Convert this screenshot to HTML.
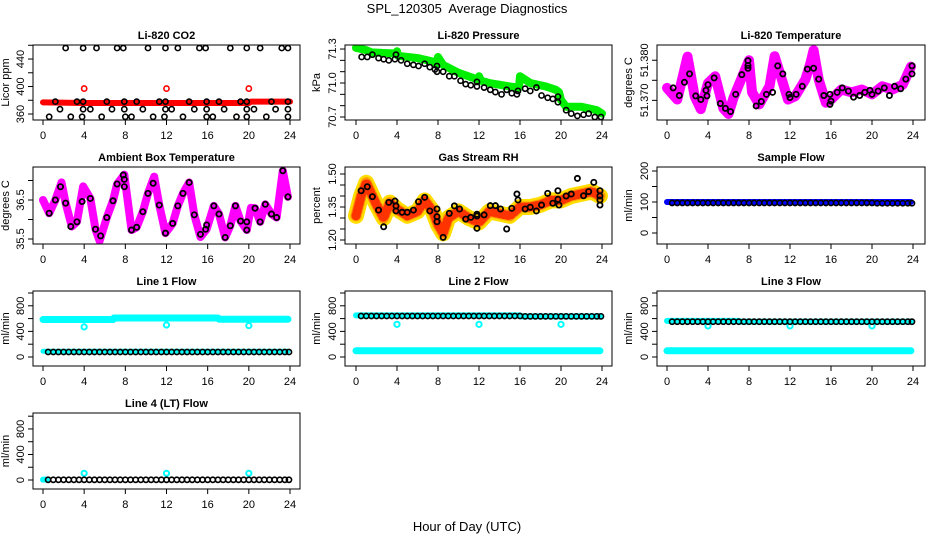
<!DOCTYPE html>
<html><head><meta charset="utf-8"><style>
html,body{margin:0;padding:0;background:#fff}
svg{display:block;font-family:"Liberation Sans",Arial,sans-serif}
</style></head><body>
<svg id="chart" width="936" height="540" viewBox="0 0 936 540" xmlns="http://www.w3.org/2000/svg">
<text x="467" y="13" text-anchor="middle" font-size="13" style="white-space:pre">SPL_120305&#160; Average Diagnostics</text>
<text x="467" y="531" text-anchor="middle" font-size="13">Hour of Day (UTC)</text>
</svg>
<script>
// ---- data ----
const hourTicks = [0,4,8,12,16,20,24];

const co2BandT = [0,4,8,12,16,20,20.2,24];
const co2BandV = [377,376,376,376,376,376,378,378];
const co2OutT = [4,12,20];
const co2OutV = [397,397,397];
const co2CircT = [2.2,3.9,5.2,7.2,7.8,10.2,11.9,13.1,15.2,15.8,18.2,19.8,21.1,23.2,23.8,
 1.2,3.3,3.9,6.2,7.9,9.1,11.3,11.9,14.2,15.9,17.1,19.2,19.8,22.2,23.8,
 1.65,3.9,4.6,6.7,7.9,9.7,11.9,12.5,14.7,15.9,17.6,19.8,20.5,22.6,23.8,
 0.6,2.7,3.8,5.7,8.0,8.6,10.7,11.8,13.6,15.9,16.5,18.8,19.8,21.7,23.8];
const co2CircV = [456,456,456,456,456,456,456,456,456,456,456,456,456,456,456,
 378,378,378,378,378,378,378,378,378,378,378,378,378,378,378,
 367,367,367,367,367,367,367,367,367,367,367,367,367,367,367,
 356,356,356,356,356,356,356,356,356,356,356,356,356,356,356];

const presBandT = [0,1,1.5,3.9,4,4.1,6,7.5,7.9,8,8.5,10,11.9,12,12.2,13,15,15.9,16,17,18.5,19.5,19.8,20,20.5,22,23.5,24];
const presBandV = [71.31,71.29,71.27,71.26,71.28,71.24,71.22,71.19,71.17,71.23,71.16,71.09,71.03,71.06,71.02,71.0,70.97,70.96,71.06,71.0,70.97,70.94,70.92,70.85,70.79,70.79,70.76,70.73];
const presCircT = [0.55,1.1,1.6,2.2,2.7,3.2,3.8,3.9,4.4,5.0,5.6,6.1,6.7,7.2,7.7,7.9,7.9,8.5,9.1,9.6,10.2,10.7,11.2,11.8,11.8,12.5,13.1,13.6,14.2,14.7,15.2,15.7,15.8,16.5,17.0,17.6,18.1,18.7,19.2,19.7,19.7,20.5,21.0,21.6,22.2,22.7,23.3,23.9];
const presCircV = [71.23,71.23,71.25,71.22,71.21,71.20,71.21,71.25,71.20,71.17,71.16,71.15,71.17,71.14,71.12,71.10,71.15,71.10,71.06,71.06,71.02,70.99,70.98,70.97,71.01,70.96,70.94,70.92,70.90,70.94,70.91,70.90,70.93,70.95,70.93,70.96,70.89,70.87,70.86,70.83,70.88,70.76,70.73,70.71,70.72,70.73,70.70,70.70];

const tempBandT = [0,1,2,2.7,3.3,4,4.7,5.5,6,6.5,7.5,8,8.3,9,10,10.5,11,11.8,12.5,13.5,14,14.3,14.8,15.5,16,17,18,19,20,21,22,23,23.8];
const tempBandV = [51.3731,51.3702,51.3809,51.371,51.3678,51.3743,51.376,51.368,51.3666,51.3707,51.3769,51.380,51.372,51.369,51.3735,51.381,51.3769,51.3702,51.371,51.3752,51.3793,51.3825,51.3752,51.3694,51.3702,51.3727,51.372,51.3727,51.3715,51.3735,51.3727,51.3739,51.3784];
const tempCircT = [0.6,1.2,1.7,2.2,2.8,3.3,3.8,3.9,4.0,4.6,5.2,5.7,6.2,6.7,7.3,7.9,7.9,7.9,8.7,9.2,9.7,10.3,10.8,11.3,11.9,12.0,12.6,13.2,13.7,14.3,14.8,15.3,15.9,15.9,16.0,16.6,17.1,17.7,18.2,18.8,19.3,19.8,20.0,20.6,21.2,21.7,22.2,22.8,23.3,23.9,23.9];
const tempCircV = [51.3731,51.3712,51.3745,51.3766,51.3711,51.3702,51.3725,51.3711,51.3739,51.3756,51.3692,51.3680,51.3672,51.3715,51.3764,51.3787,51.3799,51.3780,51.3686,51.3697,51.3715,51.3720,51.3786,51.3766,51.3715,51.3707,51.3715,51.3735,51.3778,51.3780,51.3753,51.3712,51.3715,51.3690,51.3698,51.3720,51.3731,51.3723,51.3708,51.3712,51.3720,51.3725,51.3715,51.3723,51.3731,51.3712,51.3735,51.3729,51.3753,51.3786,51.3766];

const ambBandT = [0,0.6,1.2,1.8,2.2,2.8,3.3,3.9,4.6,5.1,5.5,6.2,6.8,7.2,7.9,8.6,9.1,9.7,10.2,10.8,11.3,11.9,12.6,13.1,13.6,14.2,14.7,15.3,15.9,16.6,17.1,17.7,18.2,18.7,19.2,19.8,20.2,20.6,21.1,21.6,22.2,22.7,23.3,23.8];
const ambBandV = [36.5,36.16,36.5,36.95,36.42,35.82,35.94,36.85,36.54,35.75,35.45,36.05,36.48,36.91,37.15,35.73,35.8,36.2,36.67,37.1,36.37,35.65,35.9,36.35,36.67,36.95,36.12,35.55,35.75,36.35,36.14,35.54,35.84,36.35,35.96,35.73,36.3,36.29,35.94,36.39,36.14,36.05,37.25,36.58];
const ambCircT = [0.6,1.2,1.7,2.2,2.7,3.3,3.8,4.6,5.1,5.6,6.2,6.8,7.2,7.8,7.9,7.9,8.6,9.1,9.7,10.2,10.7,11.3,11.9,12.6,13.1,13.6,14.2,14.7,15.3,15.8,15.9,16.6,17.1,17.7,18.2,18.7,19.2,19.8,19.8,20.6,21.1,21.6,22.2,22.7,23.3,23.8];
const ambCircV = [36.16,36.5,36.84,36.42,35.82,35.94,36.46,36.54,35.75,35.58,36.05,36.48,36.91,37.14,37.03,36.84,35.73,35.8,36.2,36.67,36.93,36.37,35.65,35.9,36.35,36.67,36.95,36.12,35.62,35.75,35.86,36.35,36.14,35.54,35.84,36.35,35.96,35.73,35.94,36.29,35.94,36.39,36.14,36.05,37.25,36.58];

const rhBandT = [0,0.5,1,1.5,2,2.7,3.3,4,5,6,6.7,7.5,8,8.5,9,10,11,12,13,14,15,16,17,18,19,20,21,22,23,23.8];
const rhBandV = [1.31,1.40,1.46,1.41,1.36,1.30,1.37,1.34,1.31,1.33,1.38,1.33,1.27,1.23,1.30,1.33,1.30,1.28,1.33,1.32,1.31,1.35,1.35,1.36,1.38,1.38,1.40,1.41,1.42,1.40];
const rhCircT = [0.5,1.1,1.6,2.2,2.7,3.2,3.8,3.9,3.9,4.5,5.0,5.6,6.1,6.7,7.2,7.9,7.9,7.9,8.5,9.1,9.6,10.1,10.7,11.2,11.8,11.8,11.8,12.5,13.1,13.6,14.1,14.7,15.2,15.7,15.8,16.5,17.0,17.6,18.1,18.7,19.2,19.7,19.7,19.8,20.5,21.0,21.6,22.2,22.7,23.2,23.8,23.8,23.8,23.8];
const rhCircV = [1.424,1.442,1.397,1.336,1.26,1.371,1.377,1.355,1.332,1.326,1.326,1.336,1.374,1.394,1.332,1.341,1.306,1.283,1.212,1.321,1.355,1.341,1.295,1.303,1.317,1.309,1.253,1.314,1.356,1.356,1.341,1.25,1.344,1.409,1.382,1.341,1.349,1.332,1.359,1.412,1.367,1.424,1.385,1.359,1.4,1.409,1.48,1.401,1.42,1.462,1.424,1.4,1.382,1.359];

const flowT = [0.5,1,1.5,2,2.5,3,3.5,4,4.5,5,5.5,6,6.5,7,7.5,8,8.5,9,9.5,10,10.5,11,11.5,12,12.5,13,13.5,14,14.5,15,15.5,16,16.5,17,17.5,18,18.5,19,19.5,20,20.5,21,21.5,22,22.5,23,23.5,23.9];
const outT = [4,12,20];

const sampleBandT = [0,23.8];
const sampleBandV = [100,100];
const sampleCircV = [97,97,97,97,97,97,97,97,97,97,97,97,97,97,97,97,97,97,97,97,97,97,97,97,97,97,97,97,97,97,97,97,97,97,97,97,97,97,97,97,96,96,96,96,96,96,96,96];

const line1TopT = [0,6.8,6.9,17,17.1,23.8];
const line1TopV = [585,585,610,610,590,590];
const line1LowT = [0,23.8];
const line1LowV = [90,90];
const line1OutV = [470,500,490];
const line1CircV = [78,78,78,78,78,78,78,78,78,78,78,78,78,78,78,78,78,78,78,78,78,78,78,78,78,78,78,78,78,78,78,78,78,78,78,78,78,78,78,78,78,78,78,78,78,78,78,78];

const line2TopT = [0,16,16.1,23.8];
const line2TopV = [650,650,635,635];
const line2LowT = [0,23.8];
const line2LowV = [97,97];
const line2OutV = [510,510,510];
const line2CircV = [640,640,640,640,640,640,640,640,640,640,640,640,640,640,640,640,640,640,640,640,640,640,640,640,640,640,640,640,640,640,640,640,635,635,635,635,635,635,635,635,635,635,635,635,635,635,635,635];

const line3TopT = [0,7,7.1,23.8];
const line3TopV = [565,565,552,552];
const line3LowT = [0,23.8];
const line3LowV = [97,97];
const line3OutV = [485,485,485];
const line3CircV = [552,552,552,552,552,552,552,552,552,552,552,552,552,552,552,552,552,552,552,552,552,552,552,552,552,552,552,552,552,552,552,552,552,552,552,552,552,552,552,552,552,552,552,552,552,552,552,552];

const line4BandT = [0,0.4];
const line4BandV = [5,5];
const line4OutV = [105,105,105];
const line4CircV = [3,3,3,3,3,3,3,3,3,3,3,3,3,3,3,3,3,3,3,3,3,3,3,3,3,3,3,3,3,3,3,3,3,3,3,3,3,3,3,3,3,3,3,3,3,3,3,3];

// ---- layout ----
const NS = "http://www.w3.org/2000/svg";
const svg = document.getElementById('chart');
const cols = [{bx:33,bw:267,x0:43,x24:290},{bx:345,bw:267,x0:356,x24:602},{bx:657,bw:268,x0:667,x24:913}];
const rows = [{by:45,bh:75},{by:167,bh:77},{by:291,bh:75},{by:413,bh:76}];

function el(tag, parent){ const e=document.createElementNS(NS,tag); parent.appendChild(e); return e; }

function panel(name,title,ylab,c,r,ymin,ymax,ticks,labels){
  const C=cols[c], R=rows[r];
  const g=el('g',svg);
  
  
  const xs=t=>C.x0+t*(C.x24-C.x0)/24;
  const ys=v=>R.by+R.bh-(v-ymin)/(ymax-ymin)*R.bh;
  const tt=el('text',g);
  
  
  tt.setAttribute('x',C.bx+C.bw/2); tt.setAttribute('y',R.by-6);
  tt.setAttribute('text-anchor','middle'); tt.setAttribute('font-size','11'); tt.setAttribute('font-weight','bold');
  tt.textContent=title;
  const yl=el('text',g);
  
  
  const yx=C.bx-(c===0?24:25), yy=R.by+R.bh/2;
  yl.setAttribute('transform','translate('+yx+','+yy+') rotate(-90)');
  yl.setAttribute('text-anchor','middle'); yl.setAttribute('font-size','11');
  yl.textContent=ylab;
  hourTicks.forEach(h=>{
    const l=el('line',g);
    
    
    l.setAttribute('x1',xs(h));l.setAttribute('x2',xs(h));l.setAttribute('y1',R.by+R.bh);l.setAttribute('y2',R.by+R.bh+5);
    l.setAttribute('stroke','#000');
    const t=el('text',g);
    
    
    t.setAttribute('x',xs(h));t.setAttribute('y',R.by+R.bh+19);t.setAttribute('text-anchor','middle');t.setAttribute('font-size','11');
    t.textContent=h;
  });
  ticks.forEach(v=>{
    const l=el('line',g);
    
    
    l.setAttribute('x1',C.bx-5);l.setAttribute('x2',C.bx);l.setAttribute('y1',ys(v));l.setAttribute('y2',ys(v));
    l.setAttribute('stroke','#000');
  });
  labels.forEach(v=>{
    const t=el('text',g);
    
    
    t.setAttribute('transform','translate('+(C.bx-9)+','+ys(v)+') rotate(-90)');
    t.setAttribute('text-anchor','middle');t.setAttribute('font-size','11');
    t.textContent=(name==='li820-temperature')?v.toFixed(3):(name==='gas-rh'?v.toFixed(2):(name==='li820-pressure'||name==='ambient-temp'?v.toFixed(1):v));
  });
  const clip=el('clipPath',g); clip.setAttribute('id','clip-'+name);
  const cr=el('rect',clip); cr.setAttribute('x',C.bx);cr.setAttribute('y',R.by);cr.setAttribute('width',C.bw);cr.setAttribute('height',R.bh);
  const plot=el('g',g); plot.setAttribute('clip-path','url(#clip-'+name+')');
  
  
  const box=el('rect',g);
  
  
  box.setAttribute('x',C.bx);box.setAttribute('y',R.by);box.setAttribute('width',C.bw);box.setAttribute('height',R.bh);
  box.setAttribute('fill','none');box.setAttribute('stroke','#000');
  return {xs,ys,plot};
}
function band(P,T,V,color,w,nm,dash){
  const p=el('polyline',P.plot);
  
  
  p.setAttribute('points',T.map((t,i)=>P.xs(t)+','+P.ys(V[i])).join(' '));
  p.setAttribute('fill','none');p.setAttribute('stroke',color);p.setAttribute('stroke-width',w);
  p.setAttribute('stroke-linejoin','round');p.setAttribute('stroke-linecap','round');
  if(dash) p.setAttribute('stroke-dasharray',dash);
}
function circles(P,T,V,color,nm,sw){
  T.forEach((t,i)=>{
    const c=el('circle',P.plot);
    
    
    c.setAttribute('cx',P.xs(t));c.setAttribute('cy',P.ys(V[i]));c.setAttribute('r',2.6);
    c.setAttribute('fill','none');c.setAttribute('stroke',color);c.setAttribute('stroke-width',sw||1.6);
  });
}

let P;
P=panel('li820-co2','Li-820 CO2','Licor ppm',0,0,351.3,460.4,[360,380,400,420,440,460],[360,400,440]);
band(P,co2BandT,co2BandV,'#ff0000',6,'co2-band');
circles(P,co2OutT,co2OutV,'#ff0000','co2-outlier');
circles(P,co2CircT,co2CircV,'#000','co2-average-point');

P=panel('li820-pressure','Li-820 Pressure','kPa',1,0,70.6735,71.3355,[70.7,70.8,70.9,71.0,71.1,71.2,71.3],[70.7,71.0,71.3]);
band(P,presBandT,presBandV,'#00ee00',8,'pressure-band');
circles(P,presCircT,presCircV,'#000','pressure-average-point');

P=panel('li820-temperature','Li-820 Temperature','degrees C',2,0,51.3651,51.3838,[51.370,51.375,51.380],[51.370,51.380]);
band(P,tempBandT,tempBandV,'#ff00ff',10,'temperature-band');
circles(P,tempCircT,tempCircV,'#000','temperature-average-point',1.8);

P=panel('ambient-temp','Ambient Box Temperature','degrees C',0,1,35.372,37.346,[35.5,36.0,36.5,37.0],[35.5,36.5]);
band(P,ambBandT,ambBandV,'#ff00ff',8,'ambient-band');
circles(P,ambCircT,ambCircV,'#000','ambient-average-point',1.8);

P=panel('gas-rh','Gas Stream RH','percent',1,1,1.1818,1.5318,[1.20,1.25,1.30,1.35,1.40,1.45,1.50],[1.20,1.35,1.50]);
band(P,rhBandT,rhBandV,'#ffdd00',16,'rh-band-edge');
band(P,rhBandT,rhBandV,'#ff9900',11,'rh-band');
band(P,rhBandT,rhBandV,'#ff3300',9,'rh-band-dots','1 3');
circles(P,rhCircT,rhCircV,'#000','rh-average-point',1.8);

P=panel('sample-flow','Sample Flow','ml/min',2,1,-35.5,212.9,[0,50,100,150,200],[0,100,200]);
band(P,sampleBandT,sampleBandV,'#0000ff',6,'sample-band');
circles(P,flowT,sampleCircV,'#000','sample-average-point');

P=panel('line1-flow','Line 1 Flow','ml/min',0,2,-140.6,1031,[0,200,400,600,800,1000],[0,400,800]);
band(P,line1TopT,line1TopV,'#00ffff',7,'line1-high-band');
band(P,line1LowT,line1LowV,'#00ffff',5,'line1-low-band');
circles(P,outT,line1OutV,'#00ffff','line1-outlier',2);
circles(P,flowT,line1CircV,'#000','line1-average-point');

P=panel('line2-flow','Line 2 Flow','ml/min',1,2,-140.6,1031,[0,200,400,600,800,1000],[0,400,800]);
band(P,line2TopT,line2TopV,'#00ffff',6,'line2-high-band');
band(P,line2LowT,line2LowV,'#00ffff',7,'line2-low-band');
circles(P,outT,line2OutV,'#00ffff','line2-outlier',2);
circles(P,flowT,line2CircV,'#000','line2-average-point');

P=panel('line3-flow','Line 3 Flow','ml/min',2,2,-140.6,1031,[0,200,400,600,800,1000],[0,400,800]);
band(P,line3TopT,line3TopV,'#00ffff',6,'line3-high-band');
band(P,line3LowT,line3LowV,'#00ffff',7,'line3-low-band');
circles(P,outT,line3OutV,'#00ffff','line3-outlier',2);
circles(P,flowT,line3CircV,'#000','line3-average-point');

P=panel('line4-flow','Line 4 (LT) Flow','ml/min',0,3,-141,1050,[0,200,400,600,800,1000],[0,400,800]);
band(P,line4BandT,line4BandV,'#00ffff',6,'line4-band');
circles(P,outT,line4OutV,'#00ffff','line4-outlier',2);
circles(P,flowT,line4CircV,'#000','line4-average-point');
</script>
</body></html>
